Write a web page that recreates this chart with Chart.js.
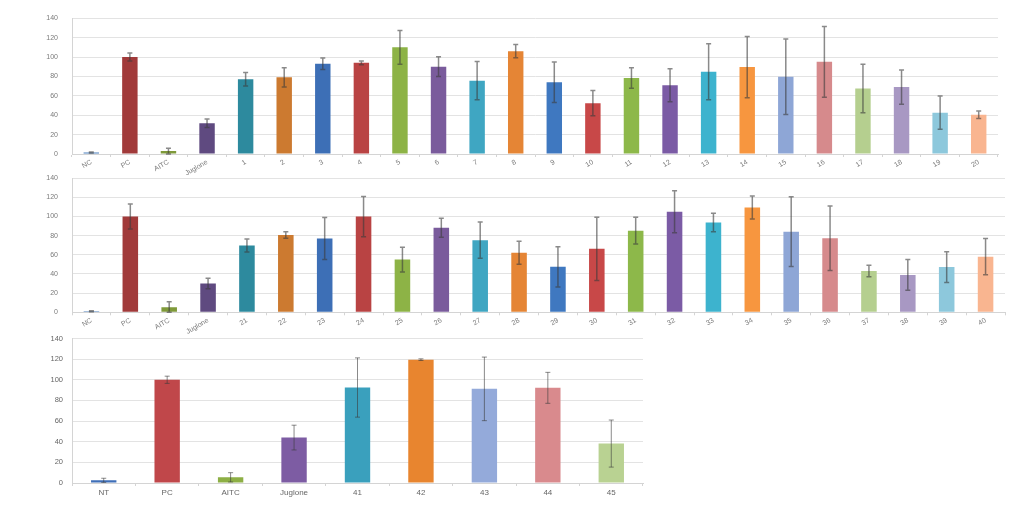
<!DOCTYPE html>
<html>
<head>
<meta charset="utf-8">
<script src="https://cdn.jsdelivr.net/npm/chart.js@4.4.0/dist/chart.umd.min.js"></script>
<style>
  html, body { margin: 0; padding: 0; background: #ffffff; }
  body { width: 1027px; height: 511px; position: relative; overflow: hidden; }
  canvas { position: absolute; left: 0; }
</style>
</head>
<body>
<canvas id="c1" width="1027" height="175" style="top:0px"></canvas>
<canvas id="c2" width="1027" height="174" style="top:160px"></canvas>
<canvas id="c3" width="660" height="181" style="top:325px"></canvas>
<script>
// ---------- data ----------
const cats1 = ['NC','PC','AITC','Juglone','1','2','3','4','5','6','7','8','9','10','11','12','13','14','15','16','17','18','19','20'];
const vals1 = [1.5,100,3,31.7,77,79,93,94,110,90,75.6,106,74,52.4,78.4,70.8,84.8,89.6,79.7,95,67.4,69,42.6,40.5];
const errs1 = [0.5,4,3,4.5,7,10,6,2,17.4,10.2,19.8,6.8,20.8,13,10.5,17,28.8,31.5,38.9,36.5,25,17.7,17.2,3.9];

const cats2 = ['NC','PC','AITC','Juglone','21','22','23','24','25','26','27','28','29','30','31','32','33','34','35','36','37','38','39','40'];
const vals2 = [1,100,5.4,30,69.8,80.7,77,99.9,55,88.3,75.3,62.2,47.5,66.3,85.2,105,93.7,109.5,84.2,77.3,43.1,39,47.2,58.1];
const errs2 = [0.5,13,5.5,5.5,6.8,3.5,22,21,13,10,19,12,21,33,14,22,9.6,12,36.5,33.6,6,16,16,19];

const cats3 = ['NT','PC','AITC','Juglone','41','42','43','44','45'];
const vals3 = [2.6,100,5.5,44,92.5,119.5,91.2,92.2,38.2];
const errs3 = [2,3.5,4.5,12,28.7,0.8,30.8,15,22.8];

const yTicks = [0,20,40,60,80,100,120,140];

const palette24 = ['#4A7EBB','#A13A3A','#7F9A3A','#5F4A80',
  '#2D8A9E','#CC7A30','#3D6FB6','#B94343','#8DB346','#7A5B9C',
  '#3FA6C2','#E58535','#3F78C0','#C84848','#8DB84A','#7B5BA5',
  '#3DB3CE','#F7963F','#8EA6D6','#D68A8C','#B5CF8F','#A898C3',
  '#8DC8DC','#F9B590'];
const palette3 = ['#3F6FB8','#C0474A','#8DAF45','#7D5CA3','#3AA0BD','#E8852F','#94AADA','#D98A8D','#B9D292'];

// ---------- error bar plugin ----------
const errorBars = {
  id: 'errorBars',
  afterDatasetsDraw(chart, args, opts) {
    const ctx = chart.ctx;
    const yScale = chart.scales.y;
    chart.data.datasets.forEach((ds, di) => {
      const meta = chart.getDatasetMeta(di);
      const errs = ds.errors || [];
      meta.data.forEach((el, i) => {
        const v = ds.data[i], e = errs[i];
        if (e == null) return;
        const yt = yScale.getPixelForValue(v + e);
        const yb = yScale.getPixelForValue(Math.max(v - e, 0));
        const x = el.x;
        ctx.save();
        ctx.strokeStyle = opts.color || 'rgba(60,60,60,0.7)';
        ctx.lineWidth = opts.width || 1.5;
        ctx.beginPath();
        ctx.moveTo(x, yt); ctx.lineTo(x, yb);
        const c = opts.cap || 2.5;
        ctx.moveTo(x - c, yt); ctx.lineTo(x + c, yt);
        ctx.moveTo(x - c, yb); ctx.lineTo(x + c, yb);
        ctx.stroke();
        ctx.restore();
      });
    });
  }
};

function makeChart(id, cats, vals, errs, colors, cfg) {
  return new Chart(document.getElementById(id), {
    type: 'bar',
    data: {
      labels: cats,
      datasets: [{
        data: vals,
        errors: errs,
        backgroundColor: colors,
        borderWidth: 0,
        barPercentage: 0.4,
        categoryPercentage: 1.0
      }]
    },
    plugins: [errorBars],
    options: {
      responsive: false,
      animation: false,
      layout: { padding: { top: cfg.padTop, right: cfg.padRight, left: 0, bottom: 0 } },
      plugins: {
        legend: { display: false },
        tooltip: { enabled: false },
        errorBars: { color: 'rgba(60,60,60,0.6)', width: cfg.errW, cap: cfg.cap }
      },
      scales: {
        x: {
          offset: true,
          grid: { display: true, drawOnChartArea: false, drawTicks: true, tickLength: 3, color: '#d4d4d4', offset: true },
          border: { display: true, color: '#d4d4d4' },
          ticks: {
            autoSkip: false,
            maxRotation: cfg.rot, minRotation: cfg.rot,
            padding: cfg.xPad,
            color: cfg.tickColor,
            font: { family: 'Liberation Sans, Arial, sans-serif', size: cfg.xFont }
          },
          afterFit(s) { s.height = cfg.xHeight; }
        },
        y: {
          min: 0, max: 140,
          afterBuildTicks(s) { s.ticks = yTicks.map(v => ({ value: v })); },
          grid: { color: '#e3e3e3', drawTicks: false, lineWidth: 1 },
          border: { display: true, color: '#d4d4d4' },
          ticks: {
            autoSkip: false,
            padding: cfg.yPad,
            color: cfg.tickColor,
            font: { family: 'Liberation Sans, Arial, sans-serif', size: cfg.yFont }
          },
          afterFit(s) { s.width = 72; }
        }
      }
    }
  });
}

makeChart('c1', cats1, vals1, errs1, palette24,
  { padTop: 17, padRight: 29, rot: 30, xPad: 1, xFont: 7, yFont: 7, yPad: 14, xHeight: 21, tickColor: '#7a7a7a', errW: 1.5, cap: 2.5 });
makeChart('c2', cats2, vals2, errs2, palette24,
  { padTop: 16, padRight: 22, rot: 30, xPad: 1, xFont: 7, yFont: 7, yPad: 14, xHeight: 21.7, tickColor: '#7a7a7a', errW: 1.5, cap: 2.5 });
makeChart('c3', cats3, vals3, errs3, palette3,
  { padTop: 12.7, padRight: 17, rot: 0, xPad: 2, xFont: 8, yFont: 7.5, yPad: 9, xHeight: 23, tickColor: '#666666', errW: 1, cap: 2.5 });
</script>
</body>
</html>
